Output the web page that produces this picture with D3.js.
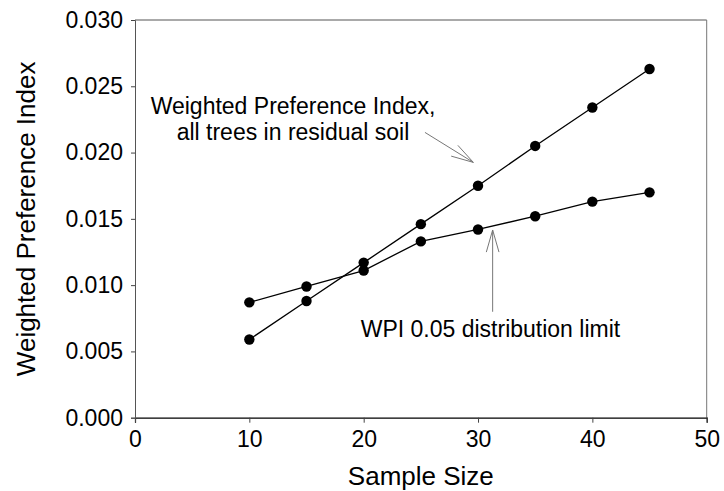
<!DOCTYPE html>
<html>
<head>
<meta charset="utf-8">
<script src="https://cdn.jsdelivr.net/npm/d3@7"></script>
<style>
  html, body { margin: 0; padding: 0; background: #fff; }
  svg { display: block; }
  text { font-family: "Liberation Sans", Arial, Helvetica, sans-serif; fill: #000; }
</style>
</head>
<body>
<svg id="chart" width="724" height="491"></svg>
<script>
// ---- data ----
const sampleSizes = [10, 15, 20, 25, 30, 35, 40, 45];
const wpiAllTrees = [0.0059, 0.0088, 0.0117, 0.0146, 0.0175, 0.0205, 0.0234, 0.0263];
const wpiLimit    = [0.0087, 0.0099, 0.0111, 0.0133, 0.0142, 0.0152, 0.0163, 0.0170];
const xTicks = [0, 10, 20, 30, 40, 50];
const yTicks = [0.000, 0.005, 0.010, 0.015, 0.020, 0.025, 0.030];
const xTitle = "Sample Size";
const yTitle = "Weighted Preference Index";
const note1 = ["Weighted Preference Index,", "all trees in residual soil"];
const note2 = "WPI 0.05 distribution limit";

// ---- layout ----
const W = 724, H = 491;
const margin = { left: 135, right: 17.3, top: 20, bottom: 73.3 };
const iw = W - margin.left - margin.right;
const ih = H - margin.top - margin.bottom;

const svg = d3.select("#chart");
const g = svg.append("g").attr("transform", `translate(${margin.left},${margin.top})`);

const x = d3.scaleLinear().domain([0, 50]).range([0, iw]);
const y = d3.scaleLinear().domain([0, 0.030]).range([ih, 0]);

// frame (top & right)
g.append("line").attr("x1", 0).attr("x2", iw).attr("y1", 0).attr("y2", 0)
  .attr("stroke", "#555").attr("stroke-width", 1);
g.append("line").attr("x1", iw).attr("x2", iw).attr("y1", 0).attr("y2", ih)
  .attr("stroke", "#777").attr("stroke-width", 1);

// axes
const xAxis = g.append("g").attr("transform", `translate(0,${ih})`)
  .call(d3.axisBottom(x).tickValues(xTicks).tickFormat(d3.format("d")).tickSize(5).tickPadding(8));
const yAxis = g.append("g")
  .call(d3.axisLeft(y).tickValues(yTicks).tickFormat(d3.format(".3f")).tickSize(4).tickPadding(8));

xAxis.select(".domain").attr("stroke", "#000").attr("stroke-width", 1.2);
xAxis.selectAll(".tick line").attr("stroke", "#444");
yAxis.select(".domain").attr("stroke", "#555").attr("stroke-width", 1);
yAxis.selectAll(".tick line").attr("stroke", "#444");
[xAxis, yAxis].forEach(a => a.selectAll("text")
  .attr("font-size", 23).attr("fill", "#000")
  .attr("font-family", '"Liberation Sans", Arial, Helvetica, sans-serif'));

// axis titles
svg.append("text").attr("x", margin.left + iw / 2).attr("y", 485)
  .attr("text-anchor", "middle").attr("font-size", 26).text(xTitle);
svg.append("text")
  .attr("transform", `translate(35,${margin.top + ih / 2}) rotate(-90)`)
  .attr("text-anchor", "middle").attr("font-size", 26).text(yTitle);

// series
const line = d3.line().x((d, i) => x(sampleSizes[i])).y(d => y(d));
[wpiAllTrees, wpiLimit].forEach(series => {
  g.append("path").datum(series).attr("d", line)
    .attr("fill", "none").attr("stroke", "#000").attr("stroke-width", 1.3);
  g.selectAll(null).data(series).enter().append("circle")
    .attr("cx", (d, i) => x(sampleSizes[i])).attr("cy", d => y(d))
    .attr("r", 5.2).attr("fill", "#000");
});

// annotations
function arrow(x0, y0, x1, y1) {
  const px0 = x(x0), py0 = y(y0), px1 = x(x1), py1 = y(y1);
  const a = Math.atan2(py0 - py1, px0 - px1);
  const L = 23, da = 16 * Math.PI / 180;
  const grp = g.append("g").attr("stroke", "#777").attr("stroke-width", 1).attr("fill", "none");
  grp.append("line").attr("x1", px0).attr("y1", py0).attr("x2", px1).attr("y2", py1);
  [a - da, a + da].forEach(b => {
    grp.append("line").attr("x1", px1).attr("y1", py1)
      .attr("x2", px1 + L * Math.cos(b)).attr("y2", py1 + L * Math.sin(b));
  });
}
arrow(25.36, 0.02152, 29.59, 0.01926);
arrow(31.28, 0.00799, 31.28, 0.01416);

const t1 = g.append("text").attr("text-anchor", "middle").attr("font-size", 23);
t1.append("tspan").attr("x", x(13.82)).attr("y", y(0.02288)).text(note1[0]);
t1.append("tspan").attr("x", x(13.82)).attr("y", y(0.02094)).text(note1[1]);

g.append("text").attr("x", x(19.74)).attr("y", y(0.00606))
  .attr("font-size", 23).text(note2);
</script>
</body>
</html>
